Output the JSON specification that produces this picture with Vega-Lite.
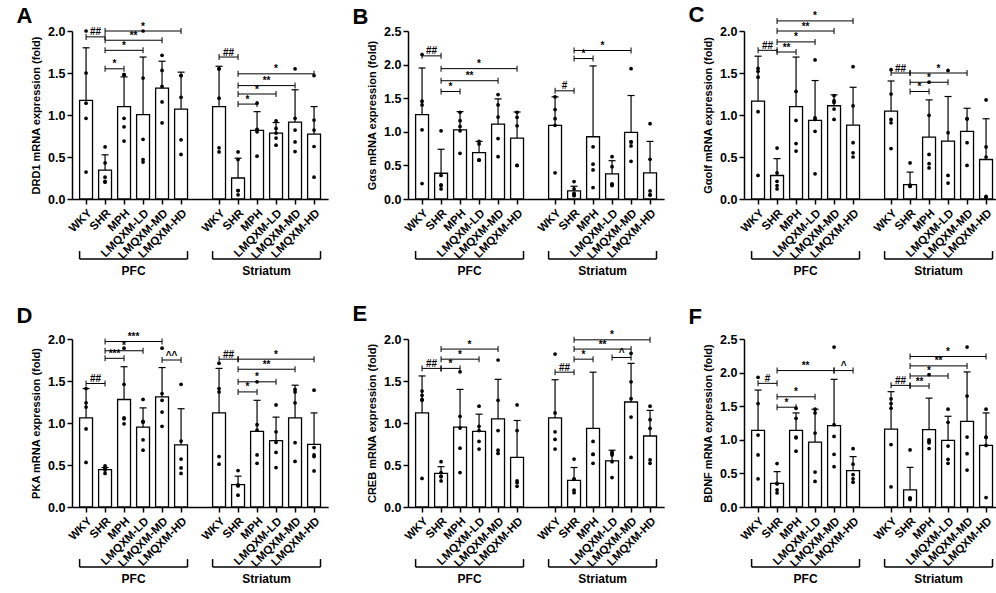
{
  "$schema": "https://vega.github.io/schema/vega-lite/v6.json",
  "padding": {"left": 16, "top": 4, "right": 2, "bottom": 0},
  "params": [
    {"name": "cats", "value": ["PFC WKY", "PFC SHR", "PFC MPH", "PFC LMQXM-LD", "PFC LMQXM-MD", "PFC LMQXM-HD", "gap", "Striatum WKY", "Striatum SHR", "Striatum MPH", "Striatum LMQXM-LD", "Striatum LMQXM-MD", "Striatum LMQXM-HD"]}
  ],
  "datasets": {
    "bars": [
      {"panel": "A", "bar": "PFC WKY", "mean": 1.175, "upper": 1.80},
      {"panel": "A", "bar": "PFC SHR", "mean": 0.343, "upper": 0.526},
      {"panel": "A", "bar": "PFC MPH", "mean": 1.10, "upper": 1.454},
      {"panel": "A", "bar": "PFC LMQXM-LD", "mean": 1.004, "upper": 1.69},
      {"panel": "A", "bar": "PFC LMQXM-MD", "mean": 1.32, "upper": 1.64},
      {"panel": "A", "bar": "PFC LMQXM-HD", "mean": 1.07, "upper": 1.51},
      {"panel": "A", "bar": "Striatum WKY", "mean": 1.10, "upper": 1.58},
      {"panel": "A", "bar": "Striatum SHR", "mean": 0.25, "upper": 0.486},
      {"panel": "A", "bar": "Striatum MPH", "mean": 0.817, "upper": 1.04},
      {"panel": "A", "bar": "Striatum LMQXM-LD", "mean": 0.785, "upper": 0.91},
      {"panel": "A", "bar": "Striatum LMQXM-MD", "mean": 0.916, "upper": 1.30},
      {"panel": "A", "bar": "Striatum LMQXM-HD", "mean": 0.773, "upper": 1.10},
      {"panel": "B", "bar": "PFC WKY", "mean": 1.255, "upper": 1.95},
      {"panel": "B", "bar": "PFC SHR", "mean": 0.383, "upper": 0.74},
      {"panel": "B", "bar": "PFC MPH", "mean": 1.03, "upper": 1.30},
      {"panel": "B", "bar": "PFC LMQXM-LD", "mean": 0.69, "upper": 0.857},
      {"panel": "B", "bar": "PFC LMQXM-MD", "mean": 1.115, "upper": 1.49},
      {"panel": "B", "bar": "PFC LMQXM-HD", "mean": 0.906, "upper": 1.295},
      {"panel": "B", "bar": "Striatum WKY", "mean": 1.096, "upper": 1.52},
      {"panel": "B", "bar": "Striatum SHR", "mean": 0.12, "upper": 0.19},
      {"panel": "B", "bar": "Striatum MPH", "mean": 0.926, "upper": 1.98},
      {"panel": "B", "bar": "Striatum LMQXM-LD", "mean": 0.373, "upper": 0.57},
      {"panel": "B", "bar": "Striatum LMQXM-MD", "mean": 0.99, "upper": 1.54},
      {"panel": "B", "bar": "Striatum LMQXM-HD", "mean": 0.39, "upper": 0.857},
      {"panel": "C", "bar": "PFC WKY", "mean": 1.166, "upper": 1.70},
      {"panel": "C", "bar": "PFC SHR", "mean": 0.28, "upper": 0.48},
      {"panel": "C", "bar": "PFC MPH", "mean": 1.10, "upper": 1.69},
      {"panel": "C", "bar": "PFC LMQXM-LD", "mean": 0.935, "upper": 1.41},
      {"panel": "C", "bar": "PFC LMQXM-MD", "mean": 1.11, "upper": 1.24},
      {"panel": "C", "bar": "PFC LMQXM-HD", "mean": 0.88, "upper": 1.33},
      {"panel": "C", "bar": "Striatum WKY", "mean": 1.045, "upper": 1.405},
      {"panel": "C", "bar": "Striatum SHR", "mean": 0.17, "upper": 0.32},
      {"panel": "C", "bar": "Striatum MPH", "mean": 0.737, "upper": 1.18},
      {"panel": "C", "bar": "Striatum LMQXM-LD", "mean": 0.69, "upper": 1.22},
      {"panel": "C", "bar": "Striatum LMQXM-MD", "mean": 0.806, "upper": 1.08},
      {"panel": "C", "bar": "Striatum LMQXM-HD", "mean": 0.47, "upper": 0.955},
      {"panel": "D", "bar": "PFC WKY", "mean": 1.06, "upper": 1.41},
      {"panel": "D", "bar": "PFC SHR", "mean": 0.445, "upper": 0.47},
      {"panel": "D", "bar": "PFC MPH", "mean": 1.28, "upper": 1.67},
      {"panel": "D", "bar": "PFC LMQXM-LD", "mean": 0.95, "upper": 1.18},
      {"panel": "D", "bar": "PFC LMQXM-MD", "mean": 1.31, "upper": 1.66},
      {"panel": "D", "bar": "PFC LMQXM-HD", "mean": 0.74, "upper": 1.17},
      {"panel": "D", "bar": "Striatum WKY", "mean": 1.12, "upper": 1.65},
      {"panel": "D", "bar": "Striatum SHR", "mean": 0.266, "upper": 0.367},
      {"panel": "D", "bar": "Striatum MPH", "mean": 0.90, "upper": 1.27},
      {"panel": "D", "bar": "Striatum LMQXM-LD", "mean": 0.79, "upper": 1.07},
      {"panel": "D", "bar": "Striatum LMQXM-MD", "mean": 1.06, "upper": 1.45},
      {"panel": "D", "bar": "Striatum LMQXM-HD", "mean": 0.745, "upper": 1.12},
      {"panel": "E", "bar": "PFC WKY", "mean": 1.12, "upper": 1.56},
      {"panel": "E", "bar": "PFC SHR", "mean": 0.40, "upper": 0.48},
      {"panel": "E", "bar": "PFC MPH", "mean": 0.95, "upper": 1.40},
      {"panel": "E", "bar": "PFC LMQXM-LD", "mean": 0.90, "upper": 1.105},
      {"panel": "E", "bar": "PFC LMQXM-MD", "mean": 1.05, "upper": 1.52},
      {"panel": "E", "bar": "PFC LMQXM-HD", "mean": 0.59, "upper": 1.03},
      {"panel": "E", "bar": "Striatum WKY", "mean": 1.06, "upper": 1.515},
      {"panel": "E", "bar": "Striatum SHR", "mean": 0.316, "upper": 0.47},
      {"panel": "E", "bar": "Striatum MPH", "mean": 0.935, "upper": 1.605},
      {"panel": "E", "bar": "Striatum LMQXM-LD", "mean": 0.55, "upper": 0.676},
      {"panel": "E", "bar": "Striatum LMQXM-MD", "mean": 1.25, "upper": 1.71},
      {"panel": "E", "bar": "Striatum LMQXM-HD", "mean": 0.845, "upper": 1.15},
      {"panel": "F", "bar": "PFC WKY", "mean": 1.14, "upper": 1.74},
      {"panel": "F", "bar": "PFC SHR", "mean": 0.353, "upper": 0.525},
      {"panel": "F", "bar": "PFC MPH", "mean": 1.14, "upper": 1.40},
      {"panel": "F", "bar": "PFC LMQXM-LD", "mean": 0.966, "upper": 1.455},
      {"panel": "F", "bar": "PFC LMQXM-MD", "mean": 1.21, "upper": 1.90},
      {"panel": "F", "bar": "PFC LMQXM-HD", "mean": 0.54, "upper": 0.75},
      {"panel": "F", "bar": "Striatum WKY", "mean": 1.16, "upper": 1.716},
      {"panel": "F", "bar": "Striatum SHR", "mean": 0.255, "upper": 0.59},
      {"panel": "F", "bar": "Striatum MPH", "mean": 1.15, "upper": 1.62},
      {"panel": "F", "bar": "Striatum LMQXM-LD", "mean": 0.99, "upper": 1.35},
      {"panel": "F", "bar": "Striatum LMQXM-MD", "mean": 1.275, "upper": 2.01},
      {"panel": "F", "bar": "Striatum LMQXM-HD", "mean": 0.917, "upper": 1.40}
    ],
    "points": [
      {"panel": "A", "bar": "PFC WKY", "value": 2.0}, {"panel": "A", "bar": "PFC WKY", "value": 1.50}, {"panel": "A", "bar": "PFC WKY", "value": 1.14}, {"panel": "A", "bar": "PFC WKY", "value": 0.96}, {"panel": "A", "bar": "PFC WKY", "value": 0.32},
      {"panel": "A", "bar": "PFC SHR", "value": 0.62}, {"panel": "A", "bar": "PFC SHR", "value": 0.43}, {"panel": "A", "bar": "PFC SHR", "value": 0.26}, {"panel": "A", "bar": "PFC SHR", "value": 0.21}, {"panel": "A", "bar": "PFC SHR", "value": 0.20},
      {"panel": "A", "bar": "PFC MPH", "value": 1.48}, {"panel": "A", "bar": "PFC MPH", "value": 1.48}, {"panel": "A", "bar": "PFC MPH", "value": 0.96}, {"panel": "A", "bar": "PFC MPH", "value": 0.86}, {"panel": "A", "bar": "PFC MPH", "value": 0.69},
      {"panel": "A", "bar": "PFC LMQXM-LD", "value": 2.0}, {"panel": "A", "bar": "PFC LMQXM-LD", "value": 1.44}, {"panel": "A", "bar": "PFC LMQXM-LD", "value": 0.71}, {"panel": "A", "bar": "PFC LMQXM-LD", "value": 0.47}, {"panel": "A", "bar": "PFC LMQXM-LD", "value": 0.44},
      {"panel": "A", "bar": "PFC LMQXM-MD", "value": 1.71}, {"panel": "A", "bar": "PFC LMQXM-MD", "value": 1.53}, {"panel": "A", "bar": "PFC LMQXM-MD", "value": 1.34}, {"panel": "A", "bar": "PFC LMQXM-MD", "value": 1.155}, {"panel": "A", "bar": "PFC LMQXM-MD", "value": 0.905},
      {"panel": "A", "bar": "PFC LMQXM-HD", "value": 1.47}, {"panel": "A", "bar": "PFC LMQXM-HD", "value": 1.47}, {"panel": "A", "bar": "PFC LMQXM-HD", "value": 1.21}, {"panel": "A", "bar": "PFC LMQXM-HD", "value": 0.705}, {"panel": "A", "bar": "PFC LMQXM-HD", "value": 0.53},
      {"panel": "A", "bar": "Striatum WKY", "value": 1.55}, {"panel": "A", "bar": "Striatum WKY", "value": 1.55}, {"panel": "A", "bar": "Striatum WKY", "value": 1.20}, {"panel": "A", "bar": "Striatum WKY", "value": 0.61}, {"panel": "A", "bar": "Striatum WKY", "value": 0.56},
      {"panel": "A", "bar": "Striatum SHR", "value": 0.56}, {"panel": "A", "bar": "Striatum SHR", "value": 0.47}, {"panel": "A", "bar": "Striatum SHR", "value": 0.10}, {"panel": "A", "bar": "Striatum SHR", "value": 0.10}, {"panel": "A", "bar": "Striatum SHR", "value": 0.05},
      {"panel": "A", "bar": "Striatum MPH", "value": 1.14}, {"panel": "A", "bar": "Striatum MPH", "value": 0.83}, {"panel": "A", "bar": "Striatum MPH", "value": 0.82}, {"panel": "A", "bar": "Striatum MPH", "value": 0.80}, {"panel": "A", "bar": "Striatum MPH", "value": 0.51},
      {"panel": "A", "bar": "Striatum LMQXM-LD", "value": 0.93}, {"panel": "A", "bar": "Striatum LMQXM-LD", "value": 0.84}, {"panel": "A", "bar": "Striatum LMQXM-LD", "value": 0.785}, {"panel": "A", "bar": "Striatum LMQXM-LD", "value": 0.725}, {"panel": "A", "bar": "Striatum LMQXM-LD", "value": 0.64},
      {"panel": "A", "bar": "Striatum LMQXM-MD", "value": 1.55}, {"panel": "A", "bar": "Striatum LMQXM-MD", "value": 0.96}, {"panel": "A", "bar": "Striatum LMQXM-MD", "value": 0.82}, {"panel": "A", "bar": "Striatum LMQXM-MD", "value": 0.68}, {"panel": "A", "bar": "Striatum LMQXM-MD", "value": 0.565},
      {"panel": "A", "bar": "Striatum LMQXM-HD", "value": 1.47}, {"panel": "A", "bar": "Striatum LMQXM-HD", "value": 0.94}, {"panel": "A", "bar": "Striatum LMQXM-HD", "value": 0.82}, {"panel": "A", "bar": "Striatum LMQXM-HD", "value": 0.625}, {"panel": "A", "bar": "Striatum LMQXM-HD", "value": 0.26},

      {"panel": "B", "bar": "PFC WKY", "value": 2.15}, {"panel": "B", "bar": "PFC WKY", "value": 1.455}, {"panel": "B", "bar": "PFC WKY", "value": 1.40}, {"panel": "B", "bar": "PFC WKY", "value": 1.03}, {"panel": "B", "bar": "PFC WKY", "value": 0.23},
      {"panel": "B", "bar": "PFC SHR", "value": 1.015}, {"panel": "B", "bar": "PFC SHR", "value": 0.35}, {"panel": "B", "bar": "PFC SHR", "value": 0.21}, {"panel": "B", "bar": "PFC SHR", "value": 0.20}, {"panel": "B", "bar": "PFC SHR", "value": 0.15},
      {"panel": "B", "bar": "PFC MPH", "value": 1.29}, {"panel": "B", "bar": "PFC MPH", "value": 1.165}, {"panel": "B", "bar": "PFC MPH", "value": 1.08}, {"panel": "B", "bar": "PFC MPH", "value": 1.015}, {"panel": "B", "bar": "PFC MPH", "value": 0.68},
      {"panel": "B", "bar": "PFC LMQXM-LD", "value": 0.857}, {"panel": "B", "bar": "PFC LMQXM-LD", "value": 0.82}, {"panel": "B", "bar": "PFC LMQXM-LD", "value": 0.58}, {"panel": "B", "bar": "PFC LMQXM-LD", "value": 0.58}, {"panel": "B", "bar": "PFC LMQXM-LD", "value": 0.58},
      {"panel": "B", "bar": "PFC LMQXM-MD", "value": 1.555}, {"panel": "B", "bar": "PFC LMQXM-MD", "value": 1.40}, {"panel": "B", "bar": "PFC LMQXM-MD", "value": 1.22}, {"panel": "B", "bar": "PFC LMQXM-MD", "value": 0.90}, {"panel": "B", "bar": "PFC LMQXM-MD", "value": 0.63},
      {"panel": "B", "bar": "PFC LMQXM-HD", "value": 1.29}, {"panel": "B", "bar": "PFC LMQXM-HD", "value": 1.215}, {"panel": "B", "bar": "PFC LMQXM-HD", "value": 1.09}, {"panel": "B", "bar": "PFC LMQXM-HD", "value": 0.50}, {"panel": "B", "bar": "PFC LMQXM-HD", "value": 0.50},
      {"panel": "B", "bar": "Striatum WKY", "value": 1.52}, {"panel": "B", "bar": "Striatum WKY", "value": 1.33}, {"panel": "B", "bar": "Striatum WKY", "value": 1.195}, {"panel": "B", "bar": "Striatum WKY", "value": 1.096}, {"panel": "B", "bar": "Striatum WKY", "value": 0.39},
      {"panel": "B", "bar": "Striatum SHR", "value": 0.26}, {"panel": "B", "bar": "Striatum SHR", "value": 0.15}, {"panel": "B", "bar": "Striatum SHR", "value": 0.085}, {"panel": "B", "bar": "Striatum SHR", "value": 0.06}, {"panel": "B", "bar": "Striatum SHR", "value": 0.05},
      {"panel": "B", "bar": "Striatum MPH", "value": 0.777}, {"panel": "B", "bar": "Striatum MPH", "value": 0.518}, {"panel": "B", "bar": "Striatum MPH", "value": 0.433}, {"panel": "B", "bar": "Striatum MPH", "value": 0.17},
      {"panel": "B", "bar": "Striatum LMQXM-LD", "value": 0.63}, {"panel": "B", "bar": "Striatum LMQXM-LD", "value": 0.48}, {"panel": "B", "bar": "Striatum LMQXM-LD", "value": 0.22}, {"panel": "B", "bar": "Striatum LMQXM-LD", "value": 0.22}, {"panel": "B", "bar": "Striatum LMQXM-LD", "value": 0.20},
      {"panel": "B", "bar": "Striatum LMQXM-MD", "value": 1.94}, {"panel": "B", "bar": "Striatum LMQXM-MD", "value": 0.85}, {"panel": "B", "bar": "Striatum LMQXM-MD", "value": 0.85}, {"panel": "B", "bar": "Striatum LMQXM-MD", "value": 0.79}, {"panel": "B", "bar": "Striatum LMQXM-MD", "value": 0.56},
      {"panel": "B", "bar": "Striatum LMQXM-HD", "value": 1.12}, {"panel": "B", "bar": "Striatum LMQXM-HD", "value": 0.59}, {"panel": "B", "bar": "Striatum LMQXM-HD", "value": 0.12}, {"panel": "B", "bar": "Striatum LMQXM-HD", "value": 0.06}, {"panel": "B", "bar": "Striatum LMQXM-HD", "value": 0.06},

      {"panel": "C", "bar": "PFC WKY", "value": 1.555}, {"panel": "C", "bar": "PFC WKY", "value": 1.52}, {"panel": "C", "bar": "PFC WKY", "value": 1.45}, {"panel": "C", "bar": "PFC WKY", "value": 1.04}, {"panel": "C", "bar": "PFC WKY", "value": 0.28},
      {"panel": "C", "bar": "PFC SHR", "value": 0.607}, {"panel": "C", "bar": "PFC SHR", "value": 0.31}, {"panel": "C", "bar": "PFC SHR", "value": 0.21}, {"panel": "C", "bar": "PFC SHR", "value": 0.16}, {"panel": "C", "bar": "PFC SHR", "value": 0.12},
      {"panel": "C", "bar": "PFC MPH", "value": 1.28}, {"panel": "C", "bar": "PFC MPH", "value": 0.935}, {"panel": "C", "bar": "PFC MPH", "value": 0.66}, {"panel": "C", "bar": "PFC MPH", "value": 0.57},
      {"panel": "C", "bar": "PFC LMQXM-LD", "value": 1.656}, {"panel": "C", "bar": "PFC LMQXM-LD", "value": 0.967}, {"panel": "C", "bar": "PFC LMQXM-LD", "value": 0.947}, {"panel": "C", "bar": "PFC LMQXM-LD", "value": 0.806}, {"panel": "C", "bar": "PFC LMQXM-LD", "value": 0.30},
      {"panel": "C", "bar": "PFC LMQXM-MD", "value": 1.23}, {"panel": "C", "bar": "PFC LMQXM-MD", "value": 1.17}, {"panel": "C", "bar": "PFC LMQXM-MD", "value": 1.15}, {"panel": "C", "bar": "PFC LMQXM-MD", "value": 1.07}, {"panel": "C", "bar": "PFC LMQXM-MD", "value": 0.947},
      {"panel": "C", "bar": "PFC LMQXM-HD", "value": 1.575}, {"panel": "C", "bar": "PFC LMQXM-HD", "value": 1.11}, {"panel": "C", "bar": "PFC LMQXM-HD", "value": 0.67}, {"panel": "C", "bar": "PFC LMQXM-HD", "value": 0.55}, {"panel": "C", "bar": "PFC LMQXM-HD", "value": 0.50},
      {"panel": "C", "bar": "Striatum WKY", "value": 1.54}, {"panel": "C", "bar": "Striatum WKY", "value": 1.25}, {"panel": "C", "bar": "Striatum WKY", "value": 0.947}, {"panel": "C", "bar": "Striatum WKY", "value": 0.907}, {"panel": "C", "bar": "Striatum WKY", "value": 0.60},
      {"panel": "C", "bar": "Striatum SHR", "value": 0.43}, {"panel": "C", "bar": "Striatum SHR", "value": 0.166}, {"panel": "C", "bar": "Striatum SHR", "value": 0.158}, {"panel": "C", "bar": "Striatum SHR", "value": 0.15},
      {"panel": "C", "bar": "Striatum MPH", "value": 1.39}, {"panel": "C", "bar": "Striatum MPH", "value": 0.996}, {"panel": "C", "bar": "Striatum MPH", "value": 0.53}, {"panel": "C", "bar": "Striatum MPH", "value": 0.42}, {"panel": "C", "bar": "Striatum MPH", "value": 0.37},
      {"panel": "C", "bar": "Striatum LMQXM-LD", "value": 1.53}, {"panel": "C", "bar": "Striatum LMQXM-LD", "value": 0.79}, {"panel": "C", "bar": "Striatum LMQXM-LD", "value": 0.28}, {"panel": "C", "bar": "Striatum LMQXM-LD", "value": 0.19},
      {"panel": "C", "bar": "Striatum LMQXM-MD", "value": 0.955}, {"panel": "C", "bar": "Striatum LMQXM-MD", "value": 0.955}, {"panel": "C", "bar": "Striatum LMQXM-MD", "value": 0.67}, {"panel": "C", "bar": "Striatum LMQXM-MD", "value": 0.40},
      {"panel": "C", "bar": "Striatum LMQXM-HD", "value": 1.18}, {"panel": "C", "bar": "Striatum LMQXM-HD", "value": 0.62}, {"panel": "C", "bar": "Striatum LMQXM-HD", "value": 0.50}, {"panel": "C", "bar": "Striatum LMQXM-HD", "value": 0.03}, {"panel": "C", "bar": "Striatum LMQXM-HD", "value": 0.02},

      {"panel": "D", "bar": "PFC WKY", "value": 1.41}, {"panel": "D", "bar": "PFC WKY", "value": 1.24}, {"panel": "D", "bar": "PFC WKY", "value": 1.19}, {"panel": "D", "bar": "PFC WKY", "value": 0.93}, {"panel": "D", "bar": "PFC WKY", "value": 0.53},
      {"panel": "D", "bar": "PFC SHR", "value": 0.49}, {"panel": "D", "bar": "PFC SHR", "value": 0.47}, {"panel": "D", "bar": "PFC SHR", "value": 0.46}, {"panel": "D", "bar": "PFC SHR", "value": 0.44}, {"panel": "D", "bar": "PFC SHR", "value": 0.40},
      {"panel": "D", "bar": "PFC MPH", "value": 1.89}, {"panel": "D", "bar": "PFC MPH", "value": 1.46}, {"panel": "D", "bar": "PFC MPH", "value": 1.06}, {"panel": "D", "bar": "PFC MPH", "value": 1.05}, {"panel": "D", "bar": "PFC MPH", "value": 0.99},
      {"panel": "D", "bar": "PFC LMQXM-LD", "value": 1.28}, {"panel": "D", "bar": "PFC LMQXM-LD", "value": 1.02}, {"panel": "D", "bar": "PFC LMQXM-LD", "value": 1.01}, {"panel": "D", "bar": "PFC LMQXM-LD", "value": 0.80}, {"panel": "D", "bar": "PFC LMQXM-LD", "value": 0.676},
      {"panel": "D", "bar": "PFC LMQXM-MD", "value": 1.89}, {"panel": "D", "bar": "PFC LMQXM-MD", "value": 1.35}, {"panel": "D", "bar": "PFC LMQXM-MD", "value": 1.27}, {"panel": "D", "bar": "PFC LMQXM-MD", "value": 1.13}, {"panel": "D", "bar": "PFC LMQXM-MD", "value": 0.96},
      {"panel": "D", "bar": "PFC LMQXM-HD", "value": 1.46}, {"panel": "D", "bar": "PFC LMQXM-HD", "value": 0.785}, {"panel": "D", "bar": "PFC LMQXM-HD", "value": 0.57}, {"panel": "D", "bar": "PFC LMQXM-HD", "value": 0.465}, {"panel": "D", "bar": "PFC LMQXM-HD", "value": 0.40},
      {"panel": "D", "bar": "Striatum WKY", "value": 1.71}, {"panel": "D", "bar": "Striatum WKY", "value": 1.41}, {"panel": "D", "bar": "Striatum WKY", "value": 1.37}, {"panel": "D", "bar": "Striatum WKY", "value": 0.60}, {"panel": "D", "bar": "Striatum WKY", "value": 0.51},
      {"panel": "D", "bar": "Striatum SHR", "value": 0.434}, {"panel": "D", "bar": "Striatum SHR", "value": 0.26}, {"panel": "D", "bar": "Striatum SHR", "value": 0.26}, {"panel": "D", "bar": "Striatum SHR", "value": 0.25}, {"panel": "D", "bar": "Striatum SHR", "value": 0.14},
      {"panel": "D", "bar": "Striatum MPH", "value": 1.49}, {"panel": "D", "bar": "Striatum MPH", "value": 0.98}, {"panel": "D", "bar": "Striatum MPH", "value": 0.914}, {"panel": "D", "bar": "Striatum MPH", "value": 0.62}, {"panel": "D", "bar": "Striatum MPH", "value": 0.52},
      {"panel": "D", "bar": "Striatum LMQXM-LD", "value": 1.215}, {"panel": "D", "bar": "Striatum LMQXM-LD", "value": 0.895}, {"panel": "D", "bar": "Striatum LMQXM-LD", "value": 0.77}, {"panel": "D", "bar": "Striatum LMQXM-LD", "value": 0.65}, {"panel": "D", "bar": "Striatum LMQXM-LD", "value": 0.47},
      {"panel": "D", "bar": "Striatum LMQXM-MD", "value": 1.40}, {"panel": "D", "bar": "Striatum LMQXM-MD", "value": 1.37}, {"panel": "D", "bar": "Striatum LMQXM-MD", "value": 1.24}, {"panel": "D", "bar": "Striatum LMQXM-MD", "value": 0.766}, {"panel": "D", "bar": "Striatum LMQXM-MD", "value": 0.543},
      {"panel": "D", "bar": "Striatum LMQXM-HD", "value": 1.39}, {"panel": "D", "bar": "Striatum LMQXM-HD", "value": 0.707}, {"panel": "D", "bar": "Striatum LMQXM-HD", "value": 0.62}, {"panel": "D", "bar": "Striatum LMQXM-HD", "value": 0.60}, {"panel": "D", "bar": "Striatum LMQXM-HD", "value": 0.43},

      {"panel": "E", "bar": "PFC WKY", "value": 1.38}, {"panel": "E", "bar": "PFC WKY", "value": 1.33}, {"panel": "E", "bar": "PFC WKY", "value": 1.28}, {"panel": "E", "bar": "PFC WKY", "value": 1.27}, {"panel": "E", "bar": "PFC WKY", "value": 0.34},
      {"panel": "E", "bar": "PFC SHR", "value": 0.54}, {"panel": "E", "bar": "PFC SHR", "value": 0.41}, {"panel": "E", "bar": "PFC SHR", "value": 0.367}, {"panel": "E", "bar": "PFC SHR", "value": 0.36}, {"panel": "E", "bar": "PFC SHR", "value": 0.31},
      {"panel": "E", "bar": "PFC MPH", "value": 1.61}, {"panel": "E", "bar": "PFC MPH", "value": 1.08}, {"panel": "E", "bar": "PFC MPH", "value": 0.94}, {"panel": "E", "bar": "PFC MPH", "value": 0.70}, {"panel": "E", "bar": "PFC MPH", "value": 0.41},
      {"panel": "E", "bar": "PFC LMQXM-LD", "value": 1.20}, {"panel": "E", "bar": "PFC LMQXM-LD", "value": 0.96}, {"panel": "E", "bar": "PFC LMQXM-LD", "value": 0.91}, {"panel": "E", "bar": "PFC LMQXM-LD", "value": 0.78}, {"panel": "E", "bar": "PFC LMQXM-LD", "value": 0.69},
      {"panel": "E", "bar": "PFC LMQXM-MD", "value": 1.75}, {"panel": "E", "bar": "PFC LMQXM-MD", "value": 1.27}, {"panel": "E", "bar": "PFC LMQXM-MD", "value": 0.91}, {"panel": "E", "bar": "PFC LMQXM-MD", "value": 0.676}, {"panel": "E", "bar": "PFC LMQXM-MD", "value": 0.637},
      {"panel": "E", "bar": "PFC LMQXM-HD", "value": 1.215}, {"panel": "E", "bar": "PFC LMQXM-HD", "value": 0.91}, {"panel": "E", "bar": "PFC LMQXM-HD", "value": 0.31}, {"panel": "E", "bar": "PFC LMQXM-HD", "value": 0.29}, {"panel": "E", "bar": "PFC LMQXM-HD", "value": 0.246},
      {"panel": "E", "bar": "Striatum WKY", "value": 1.82}, {"panel": "E", "bar": "Striatum WKY", "value": 1.12}, {"panel": "E", "bar": "Striatum WKY", "value": 0.895}, {"panel": "E", "bar": "Striatum WKY", "value": 0.805}, {"panel": "E", "bar": "Striatum WKY", "value": 0.69},
      {"panel": "E", "bar": "Striatum SHR", "value": 0.57}, {"panel": "E", "bar": "Striatum SHR", "value": 0.336}, {"panel": "E", "bar": "Striatum SHR", "value": 0.33}, {"panel": "E", "bar": "Striatum SHR", "value": 0.20}, {"panel": "E", "bar": "Striatum SHR", "value": 0.17},
      {"panel": "E", "bar": "Striatum MPH", "value": 0.78}, {"panel": "E", "bar": "Striatum MPH", "value": 0.63}, {"panel": "E", "bar": "Striatum MPH", "value": 0.625}, {"panel": "E", "bar": "Striatum MPH", "value": 0.52},
      {"panel": "E", "bar": "Striatum LMQXM-LD", "value": 0.656}, {"panel": "E", "bar": "Striatum LMQXM-LD", "value": 0.64}, {"panel": "E", "bar": "Striatum LMQXM-LD", "value": 0.62}, {"panel": "E", "bar": "Striatum LMQXM-LD", "value": 0.54}, {"panel": "E", "bar": "Striatum LMQXM-LD", "value": 0.35},
      {"panel": "E", "bar": "Striatum LMQXM-MD", "value": 1.83}, {"panel": "E", "bar": "Striatum LMQXM-MD", "value": 1.49}, {"panel": "E", "bar": "Striatum LMQXM-MD", "value": 1.29}, {"panel": "E", "bar": "Striatum LMQXM-MD", "value": 1.07}, {"panel": "E", "bar": "Striatum LMQXM-MD", "value": 0.59},
      {"panel": "E", "bar": "Striatum LMQXM-HD", "value": 1.20}, {"panel": "E", "bar": "Striatum LMQXM-HD", "value": 1.04}, {"panel": "E", "bar": "Striatum LMQXM-HD", "value": 0.935}, {"panel": "E", "bar": "Striatum LMQXM-HD", "value": 0.56}, {"panel": "E", "bar": "Striatum LMQXM-HD", "value": 0.52},

      {"panel": "F", "bar": "PFC WKY", "value": 1.93}, {"panel": "F", "bar": "PFC WKY", "value": 1.54}, {"panel": "F", "bar": "PFC WKY", "value": 1.07}, {"panel": "F", "bar": "PFC WKY", "value": 0.775}, {"panel": "F", "bar": "PFC WKY", "value": 0.42},
      {"panel": "F", "bar": "PFC SHR", "value": 0.647}, {"panel": "F", "bar": "PFC SHR", "value": 0.35}, {"panel": "F", "bar": "PFC SHR", "value": 0.345}, {"panel": "F", "bar": "PFC SHR", "value": 0.255}, {"panel": "F", "bar": "PFC SHR", "value": 0.21},
      {"panel": "F", "bar": "PFC MPH", "value": 1.47}, {"panel": "F", "bar": "PFC MPH", "value": 1.32}, {"panel": "F", "bar": "PFC MPH", "value": 1.04}, {"panel": "F", "bar": "PFC MPH", "value": 1.03}, {"panel": "F", "bar": "PFC MPH", "value": 0.83},
      {"panel": "F", "bar": "PFC LMQXM-LD", "value": 1.455}, {"panel": "F", "bar": "PFC LMQXM-LD", "value": 1.40}, {"panel": "F", "bar": "PFC LMQXM-LD", "value": 1.10}, {"panel": "F", "bar": "PFC LMQXM-LD", "value": 0.52}, {"panel": "F", "bar": "PFC LMQXM-LD", "value": 0.38},
      {"panel": "F", "bar": "PFC LMQXM-MD", "value": 2.38}, {"panel": "F", "bar": "PFC LMQXM-MD", "value": 1.225}, {"panel": "F", "bar": "PFC LMQXM-MD", "value": 1.05}, {"panel": "F", "bar": "PFC LMQXM-MD", "value": 0.784}, {"panel": "F", "bar": "PFC LMQXM-MD", "value": 0.60},
      {"panel": "F", "bar": "PFC LMQXM-HD", "value": 0.868}, {"panel": "F", "bar": "PFC LMQXM-HD", "value": 0.637}, {"panel": "F", "bar": "PFC LMQXM-HD", "value": 0.48}, {"panel": "F", "bar": "PFC LMQXM-HD", "value": 0.42}, {"panel": "F", "bar": "PFC LMQXM-HD", "value": 0.37},
      {"panel": "F", "bar": "Striatum WKY", "value": 1.61}, {"panel": "F", "bar": "Striatum WKY", "value": 1.54}, {"panel": "F", "bar": "Striatum WKY", "value": 1.47}, {"panel": "F", "bar": "Striatum WKY", "value": 0.93}, {"panel": "F", "bar": "Striatum WKY", "value": 0.30},
      {"panel": "F", "bar": "Striatum SHR", "value": 0.85}, {"panel": "F", "bar": "Striatum SHR", "value": 0.135}, {"panel": "F", "bar": "Striatum SHR", "value": 0.13}, {"panel": "F", "bar": "Striatum SHR", "value": 0.12}, {"panel": "F", "bar": "Striatum SHR", "value": 0.11},
      {"panel": "F", "bar": "Striatum MPH", "value": 1.97}, {"panel": "F", "bar": "Striatum MPH", "value": 1.00}, {"panel": "F", "bar": "Striatum MPH", "value": 0.98}, {"panel": "F", "bar": "Striatum MPH", "value": 0.955}, {"panel": "F", "bar": "Striatum MPH", "value": 0.87},
      {"panel": "F", "bar": "Striatum LMQXM-LD", "value": 1.455}, {"panel": "F", "bar": "Striatum LMQXM-LD", "value": 1.26}, {"panel": "F", "bar": "Striatum LMQXM-LD", "value": 0.907}, {"panel": "F", "bar": "Striatum LMQXM-LD", "value": 0.71}, {"panel": "F", "bar": "Striatum LMQXM-LD", "value": 0.65},
      {"panel": "F", "bar": "Striatum LMQXM-MD", "value": 2.38}, {"panel": "F", "bar": "Striatum LMQXM-MD", "value": 1.65}, {"panel": "F", "bar": "Striatum LMQXM-MD", "value": 1.04}, {"panel": "F", "bar": "Striatum LMQXM-MD", "value": 0.794}, {"panel": "F", "bar": "Striatum LMQXM-MD", "value": 0.55},
      {"panel": "F", "bar": "Striatum LMQXM-HD", "value": 1.455}, {"panel": "F", "bar": "Striatum LMQXM-HD", "value": 1.04}, {"panel": "F", "bar": "Striatum LMQXM-HD", "value": 1.035}, {"panel": "F", "bar": "Striatum LMQXM-HD", "value": 0.917}, {"panel": "F", "bar": "Striatum LMQXM-HD", "value": 0.14}
    ],
    "sig": [
      {"panel": "A", "from": "PFC WKY", "to": "PFC SHR", "y": 1.93, "label": "##"},
      {"panel": "A", "from": "PFC SHR", "to": "PFC LMQXM-HD", "y": 2.0, "label": "*"},
      {"panel": "A", "from": "PFC SHR", "to": "PFC LMQXM-MD", "y": 1.89, "label": "**"},
      {"panel": "A", "from": "PFC SHR", "to": "PFC LMQXM-LD", "y": 1.77, "label": "*"},
      {"panel": "A", "from": "PFC SHR", "to": "PFC MPH", "y": 1.55, "label": "*"},
      {"panel": "A", "from": "Striatum WKY", "to": "Striatum SHR", "y": 1.69, "label": "##"},
      {"panel": "A", "from": "Striatum SHR", "to": "Striatum LMQXM-HD", "y": 1.49, "label": "*"},
      {"panel": "A", "from": "Striatum SHR", "to": "Striatum LMQXM-MD", "y": 1.35, "label": "**"},
      {"panel": "A", "from": "Striatum SHR", "to": "Striatum LMQXM-LD", "y": 1.25, "label": "*"},
      {"panel": "A", "from": "Striatum SHR", "to": "Striatum MPH", "y": 1.13, "label": "*"},
      {"panel": "B", "from": "PFC WKY", "to": "PFC SHR", "y": 2.13, "label": "##"},
      {"panel": "B", "from": "PFC SHR", "to": "PFC LMQXM-HD", "y": 1.94, "label": "*"},
      {"panel": "B", "from": "PFC SHR", "to": "PFC LMQXM-MD", "y": 1.76, "label": "**"},
      {"panel": "B", "from": "PFC SHR", "to": "PFC MPH", "y": 1.60, "label": "*"},
      {"panel": "B", "from": "Striatum WKY", "to": "Striatum SHR", "y": 1.61, "label": "#"},
      {"panel": "B", "from": "Striatum SHR", "to": "Striatum MPH", "y": 2.09, "label": "*"},
      {"panel": "B", "from": "Striatum SHR", "to": "Striatum LMQXM-MD", "y": 2.21, "label": "*"},
      {"panel": "C", "from": "PFC WKY", "to": "PFC SHR", "y": 1.77, "label": "##"},
      {"panel": "C", "from": "PFC SHR", "to": "PFC MPH", "y": 1.75, "label": "**"},
      {"panel": "C", "from": "PFC SHR", "to": "PFC LMQXM-LD", "y": 1.87, "label": "*"},
      {"panel": "C", "from": "PFC SHR", "to": "PFC LMQXM-MD", "y": 2.0, "label": "**"},
      {"panel": "C", "from": "PFC SHR", "to": "PFC LMQXM-HD", "y": 2.12, "label": "*"},
      {"panel": "C", "from": "Striatum WKY", "to": "Striatum SHR", "y": 1.50, "label": "##"},
      {"panel": "C", "from": "Striatum SHR", "to": "Striatum MPH", "y": 1.28, "label": "*"},
      {"panel": "C", "from": "Striatum SHR", "to": "Striatum LMQXM-LD", "y": 1.39, "label": "*"},
      {"panel": "C", "from": "Striatum SHR", "to": "Striatum LMQXM-MD", "y": 1.50, "label": "*"},
      {"panel": "D", "from": "PFC WKY", "to": "PFC SHR", "y": 1.47, "label": "##"},
      {"panel": "D", "from": "PFC SHR", "to": "PFC MPH", "y": 1.77, "label": "***"},
      {"panel": "D", "from": "PFC SHR", "to": "PFC LMQXM-LD", "y": 1.86, "label": "*"},
      {"panel": "D", "from": "PFC SHR", "to": "PFC LMQXM-MD", "y": 1.97, "label": "***"},
      {"panel": "D", "from": "PFC LMQXM-MD", "to": "PFC LMQXM-HD", "y": 1.75, "label": "^^"},
      {"panel": "D", "from": "Striatum WKY", "to": "Striatum SHR", "y": 1.76, "label": "##"},
      {"panel": "D", "from": "Striatum SHR", "to": "Striatum LMQXM-HD", "y": 1.76, "label": "*"},
      {"panel": "D", "from": "Striatum SHR", "to": "Striatum LMQXM-MD", "y": 1.64, "label": "**"},
      {"panel": "D", "from": "Striatum SHR", "to": "Striatum LMQXM-LD", "y": 1.49, "label": "*"},
      {"panel": "D", "from": "Striatum SHR", "to": "Striatum MPH", "y": 1.37, "label": "*"},
      {"panel": "E", "from": "PFC WKY", "to": "PFC SHR", "y": 1.65, "label": "##"},
      {"panel": "E", "from": "PFC SHR", "to": "PFC MPH", "y": 1.65, "label": "*"},
      {"panel": "E", "from": "PFC SHR", "to": "PFC LMQXM-LD", "y": 1.76, "label": "*"},
      {"panel": "E", "from": "PFC SHR", "to": "PFC LMQXM-MD", "y": 1.88, "label": "*"},
      {"panel": "E", "from": "Striatum WKY", "to": "Striatum SHR", "y": 1.605, "label": "##"},
      {"panel": "E", "from": "Striatum SHR", "to": "Striatum MPH", "y": 1.76, "label": "*"},
      {"panel": "E", "from": "Striatum SHR", "to": "Striatum LMQXM-MD", "y": 1.88, "label": "**"},
      {"panel": "E", "from": "Striatum SHR", "to": "Striatum LMQXM-HD", "y": 1.99, "label": "*"},
      {"panel": "E", "from": "Striatum LMQXM-LD", "to": "Striatum LMQXM-MD", "y": 1.78, "label": "^"},
      {"panel": "F", "from": "PFC WKY", "to": "PFC SHR", "y": 1.84, "label": "#"},
      {"panel": "F", "from": "PFC SHR", "to": "PFC MPH", "y": 1.485, "label": "*"},
      {"panel": "F", "from": "PFC SHR", "to": "PFC LMQXM-LD", "y": 1.64, "label": "*"},
      {"panel": "F", "from": "PFC SHR", "to": "PFC LMQXM-MD", "y": 2.03, "label": "**"},
      {"panel": "F", "from": "PFC LMQXM-MD", "to": "PFC LMQXM-HD", "y": 2.03, "label": "^"},
      {"panel": "F", "from": "Striatum WKY", "to": "Striatum SHR", "y": 1.81, "label": "##"},
      {"panel": "F", "from": "Striatum SHR", "to": "Striatum MPH", "y": 1.80, "label": "**"},
      {"panel": "F", "from": "Striatum SHR", "to": "Striatum LMQXM-LD", "y": 1.95, "label": "*"},
      {"panel": "F", "from": "Striatum SHR", "to": "Striatum LMQXM-MD", "y": 2.10, "label": "**"},
      {"panel": "F", "from": "Striatum SHR", "to": "Striatum LMQXM-HD", "y": 2.24, "label": "*"}
    ],
    "groups": [
      {"region": "PFC", "from": "PFC WKY", "to": "PFC LMQXM-HD"},
      {"region": "Striatum", "from": "Striatum WKY", "to": "Striatum LMQXM-HD"}
    ]
  },
  "columns": 3,
  "spacing": {"row": 26, "column": 23},
  "concat": [
    {
      "title": {"text": "A", "offset": -6},
      "width": {"step": 19},
      "height": 168,
      "layer": [
        {"data": {"name": "bars"}, "transform": [{"filter": "datum.panel == 'A'"}],
          "mark": {"type": "bar", "fill": "white", "stroke": "black", "strokeWidth": 1.3},
          "encoding": {
            "x": {"field": "bar", "type": "nominal", "title": null, "scale": {"domain": {"expr": "cats"}, "paddingInner": 0.32, "paddingOuter": 0.4}, "axis": {"labelExpr": "datum.value == 'gap' ? '' : split(datum.value, ' ')[1]", "tickColor": {"condition": {"test": "datum.value == 'gap'", "value": "transparent"}, "value": "black"}}},
            "y": {"field": "mean", "type": "quantitative", "scale": {"domain": [0, 2], "nice": false}, "axis": {"values": [0, 0.5, 1, 1.5, 2], "tickCount": 5, "format": ".1f", "labelOverlap": false, "title": "DRD1 mRNA expression (fold)"}}
          }},
        {"data": {"name": "bars"}, "transform": [{"filter": "datum.panel == 'A'"}], "mark": {"type": "rule", "color": "black", "strokeWidth": 1.2},
          "encoding": {"x": {"field": "bar", "type": "nominal"}, "y": {"field": "mean", "type": "quantitative"}, "y2": {"field": "upper"}}},
        {"data": {"name": "bars"}, "transform": [{"filter": "datum.panel == 'A'"}], "mark": {"type": "tick", "orient": "horizontal", "size": 7, "thickness": 1.2, "color": "black", "opacity": 1},
          "encoding": {"x": {"field": "bar", "type": "nominal"}, "y": {"field": "upper", "type": "quantitative"}}},
        {"data": {"name": "points"}, "transform": [{"filter": "datum.panel == 'A'"}], "mark": {"type": "circle", "size": 14, "color": "black", "opacity": 1},
          "encoding": {"x": {"field": "bar", "type": "nominal"}, "y": {"field": "value", "type": "quantitative"}}},
        {"data": {"name": "sig"}, "transform": [{"filter": "datum.panel == 'A'"}], "mark": {"type": "rule", "color": "black", "strokeWidth": 1},
          "encoding": {"x": {"field": "from", "type": "nominal"}, "x2": {"field": "to"}, "y": {"field": "y", "type": "quantitative"}}},
        {"data": {"name": "sig"}, "transform": [{"filter": "datum.panel == 'A'"}, {"fold": ["from", "to"], "as": ["end", "cat"]}], "mark": {"type": "tick", "orient": "vertical", "size": 6, "thickness": 1, "color": "black", "opacity": 1},
          "encoding": {"x": {"field": "cat", "type": "nominal"}, "y": {"field": "y", "type": "quantitative"}}},
        {"data": {"name": "sig"}, "transform": [{"filter": "datum.panel == 'A'"}], "mark": {"type": "text", "color": "black", "fontSize": 10, "fontWeight": "bold", "baseline": "alphabetic", "dy": -1.5, "dx": {"expr": "(indexof(cats, datum.to) - indexof(cats, datum.from)) * 9.5"}},
          "encoding": {"x": {"field": "from", "type": "nominal"}, "y": {"field": "y", "type": "quantitative"}, "text": {"field": "label"}}},
        {"data": {"name": "groups"}, "mark": {"type": "rule", "color": "black", "strokeWidth": 1.5},
          "encoding": {"x": {"field": "from", "type": "nominal", "bandPosition": 0}, "x2": {"field": "to", "bandPosition": 1}, "y": {"datum": -0.714}}},
        {"data": {"name": "groups"}, "mark": {"type": "rule", "color": "black", "strokeWidth": 1.5},
          "encoding": {"x": {"field": "from", "type": "nominal", "bandPosition": 0}, "y": {"datum": -0.714}, "y2": {"datum": -0.62}}},
        {"data": {"name": "groups"}, "mark": {"type": "rule", "color": "black", "strokeWidth": 1.5},
          "encoding": {"x": {"field": "to", "type": "nominal", "bandPosition": 1}, "y": {"datum": -0.714}, "y2": {"datum": -0.62}}},
        {"data": {"name": "groups"}, "mark": {"type": "text", "color": "black", "fontSize": 12, "fontWeight": "bold", "baseline": "middle", "dx": {"expr": "(indexof(cats, datum.to) - indexof(cats, datum.from)) * 9.5"}},
          "encoding": {"x": {"field": "from", "type": "nominal"}, "y": {"datum": -0.857}, "text": {"field": "region"}}}
      ]
    },
    {
      "title": {"text": "B", "offset": -4},
      "width": {"step": 19},
      "height": 168,
      "layer": [
        {"data": {"name": "bars"}, "transform": [{"filter": "datum.panel == 'B'"}],
          "mark": {"type": "bar", "fill": "white", "stroke": "black", "strokeWidth": 1.3},
          "encoding": {
            "x": {"field": "bar", "type": "nominal", "title": null, "scale": {"domain": {"expr": "cats"}, "paddingInner": 0.32, "paddingOuter": 0.4}, "axis": {"labelExpr": "datum.value == 'gap' ? '' : split(datum.value, ' ')[1]", "tickColor": {"condition": {"test": "datum.value == 'gap'", "value": "transparent"}, "value": "black"}}},
            "y": {"field": "mean", "type": "quantitative", "scale": {"domain": [0, 2.5], "nice": false}, "axis": {"values": [0, 0.5, 1, 1.5, 2, 2.5], "tickCount": 6, "format": ".1f", "labelOverlap": false, "title": "Gαs mRNA expression (fold)"}}
          }},
        {"data": {"name": "bars"}, "transform": [{"filter": "datum.panel == 'B'"}], "mark": {"type": "rule", "color": "black", "strokeWidth": 1.2},
          "encoding": {"x": {"field": "bar", "type": "nominal"}, "y": {"field": "mean", "type": "quantitative"}, "y2": {"field": "upper"}}},
        {"data": {"name": "bars"}, "transform": [{"filter": "datum.panel == 'B'"}], "mark": {"type": "tick", "orient": "horizontal", "size": 7, "thickness": 1.2, "color": "black", "opacity": 1},
          "encoding": {"x": {"field": "bar", "type": "nominal"}, "y": {"field": "upper", "type": "quantitative"}}},
        {"data": {"name": "points"}, "transform": [{"filter": "datum.panel == 'B'"}], "mark": {"type": "circle", "size": 14, "color": "black", "opacity": 1},
          "encoding": {"x": {"field": "bar", "type": "nominal"}, "y": {"field": "value", "type": "quantitative"}}},
        {"data": {"name": "sig"}, "transform": [{"filter": "datum.panel == 'B'"}], "mark": {"type": "rule", "color": "black", "strokeWidth": 1},
          "encoding": {"x": {"field": "from", "type": "nominal"}, "x2": {"field": "to"}, "y": {"field": "y", "type": "quantitative"}}},
        {"data": {"name": "sig"}, "transform": [{"filter": "datum.panel == 'B'"}, {"fold": ["from", "to"], "as": ["end", "cat"]}], "mark": {"type": "tick", "orient": "vertical", "size": 6, "thickness": 1, "color": "black", "opacity": 1},
          "encoding": {"x": {"field": "cat", "type": "nominal"}, "y": {"field": "y", "type": "quantitative"}}},
        {"data": {"name": "sig"}, "transform": [{"filter": "datum.panel == 'B'"}], "mark": {"type": "text", "color": "black", "fontSize": 10, "fontWeight": "bold", "baseline": "alphabetic", "dy": -1.5, "dx": {"expr": "(indexof(cats, datum.to) - indexof(cats, datum.from)) * 9.5"}},
          "encoding": {"x": {"field": "from", "type": "nominal"}, "y": {"field": "y", "type": "quantitative"}, "text": {"field": "label"}}},
        {"data": {"name": "groups"}, "mark": {"type": "rule", "color": "black", "strokeWidth": 1.5},
          "encoding": {"x": {"field": "from", "type": "nominal", "bandPosition": 0}, "x2": {"field": "to", "bandPosition": 1}, "y": {"datum": -0.893}}},
        {"data": {"name": "groups"}, "mark": {"type": "rule", "color": "black", "strokeWidth": 1.5},
          "encoding": {"x": {"field": "from", "type": "nominal", "bandPosition": 0}, "y": {"datum": -0.893}, "y2": {"datum": -0.774}}},
        {"data": {"name": "groups"}, "mark": {"type": "rule", "color": "black", "strokeWidth": 1.5},
          "encoding": {"x": {"field": "to", "type": "nominal", "bandPosition": 1}, "y": {"datum": -0.893}, "y2": {"datum": -0.774}}},
        {"data": {"name": "groups"}, "mark": {"type": "text", "color": "black", "fontSize": 12, "fontWeight": "bold", "baseline": "middle", "dx": {"expr": "(indexof(cats, datum.to) - indexof(cats, datum.from)) * 9.5"}},
          "encoding": {"x": {"field": "from", "type": "nominal"}, "y": {"datum": -1.07}, "text": {"field": "region"}}}
      ]
    },
    {
      "title": {"text": "C", "offset": -16},
      "width": {"step": 19},
      "height": 168,
      "layer": [
        {"data": {"name": "bars"}, "transform": [{"filter": "datum.panel == 'C'"}],
          "mark": {"type": "bar", "fill": "white", "stroke": "black", "strokeWidth": 1.3},
          "encoding": {
            "x": {"field": "bar", "type": "nominal", "title": null, "scale": {"domain": {"expr": "cats"}, "paddingInner": 0.32, "paddingOuter": 0.4}, "axis": {"labelExpr": "datum.value == 'gap' ? '' : split(datum.value, ' ')[1]", "tickColor": {"condition": {"test": "datum.value == 'gap'", "value": "transparent"}, "value": "black"}}},
            "y": {"field": "mean", "type": "quantitative", "scale": {"domain": [0, 2], "nice": false}, "axis": {"values": [0, 0.5, 1, 1.5, 2], "tickCount": 5, "format": ".1f", "labelOverlap": false, "title": "Gαolf mRNA expression (fold)"}}
          }},
        {"data": {"name": "bars"}, "transform": [{"filter": "datum.panel == 'C'"}], "mark": {"type": "rule", "color": "black", "strokeWidth": 1.2},
          "encoding": {"x": {"field": "bar", "type": "nominal"}, "y": {"field": "mean", "type": "quantitative"}, "y2": {"field": "upper"}}},
        {"data": {"name": "bars"}, "transform": [{"filter": "datum.panel == 'C'"}], "mark": {"type": "tick", "orient": "horizontal", "size": 7, "thickness": 1.2, "color": "black", "opacity": 1},
          "encoding": {"x": {"field": "bar", "type": "nominal"}, "y": {"field": "upper", "type": "quantitative"}}},
        {"data": {"name": "points"}, "transform": [{"filter": "datum.panel == 'C'"}], "mark": {"type": "circle", "size": 14, "color": "black", "opacity": 1},
          "encoding": {"x": {"field": "bar", "type": "nominal"}, "y": {"field": "value", "type": "quantitative"}}},
        {"data": {"name": "sig"}, "transform": [{"filter": "datum.panel == 'C'"}], "mark": {"type": "rule", "color": "black", "strokeWidth": 1},
          "encoding": {"x": {"field": "from", "type": "nominal"}, "x2": {"field": "to"}, "y": {"field": "y", "type": "quantitative"}}},
        {"data": {"name": "sig"}, "transform": [{"filter": "datum.panel == 'C'"}, {"fold": ["from", "to"], "as": ["end", "cat"]}], "mark": {"type": "tick", "orient": "vertical", "size": 6, "thickness": 1, "color": "black", "opacity": 1},
          "encoding": {"x": {"field": "cat", "type": "nominal"}, "y": {"field": "y", "type": "quantitative"}}},
        {"data": {"name": "sig"}, "transform": [{"filter": "datum.panel == 'C'"}], "mark": {"type": "text", "color": "black", "fontSize": 10, "fontWeight": "bold", "baseline": "alphabetic", "dy": -1.5, "dx": {"expr": "(indexof(cats, datum.to) - indexof(cats, datum.from)) * 9.5"}},
          "encoding": {"x": {"field": "from", "type": "nominal"}, "y": {"field": "y", "type": "quantitative"}, "text": {"field": "label"}}},
        {"data": {"name": "groups"}, "mark": {"type": "rule", "color": "black", "strokeWidth": 1.5},
          "encoding": {"x": {"field": "from", "type": "nominal", "bandPosition": 0}, "x2": {"field": "to", "bandPosition": 1}, "y": {"datum": -0.714}}},
        {"data": {"name": "groups"}, "mark": {"type": "rule", "color": "black", "strokeWidth": 1.5},
          "encoding": {"x": {"field": "from", "type": "nominal", "bandPosition": 0}, "y": {"datum": -0.714}, "y2": {"datum": -0.62}}},
        {"data": {"name": "groups"}, "mark": {"type": "rule", "color": "black", "strokeWidth": 1.5},
          "encoding": {"x": {"field": "to", "type": "nominal", "bandPosition": 1}, "y": {"datum": -0.714}, "y2": {"datum": -0.62}}},
        {"data": {"name": "groups"}, "mark": {"type": "text", "color": "black", "fontSize": 12, "fontWeight": "bold", "baseline": "middle", "dx": {"expr": "(indexof(cats, datum.to) - indexof(cats, datum.from)) * 9.5"}},
          "encoding": {"x": {"field": "from", "type": "nominal"}, "y": {"datum": -0.857}, "text": {"field": "region"}}}
      ]
    },
    {
      "title": {"text": "D", "offset": 4},
      "width": {"step": 19},
      "height": 168,
      "layer": [
        {"data": {"name": "bars"}, "transform": [{"filter": "datum.panel == 'D'"}],
          "mark": {"type": "bar", "fill": "white", "stroke": "black", "strokeWidth": 1.3},
          "encoding": {
            "x": {"field": "bar", "type": "nominal", "title": null, "scale": {"domain": {"expr": "cats"}, "paddingInner": 0.32, "paddingOuter": 0.4}, "axis": {"labelExpr": "datum.value == 'gap' ? '' : split(datum.value, ' ')[1]", "tickColor": {"condition": {"test": "datum.value == 'gap'", "value": "transparent"}, "value": "black"}}},
            "y": {"field": "mean", "type": "quantitative", "scale": {"domain": [0, 2], "nice": false}, "axis": {"values": [0, 0.5, 1, 1.5, 2], "tickCount": 5, "format": ".1f", "labelOverlap": false, "title": "PKA mRNA expression (fold)"}}
          }},
        {"data": {"name": "bars"}, "transform": [{"filter": "datum.panel == 'D'"}], "mark": {"type": "rule", "color": "black", "strokeWidth": 1.2},
          "encoding": {"x": {"field": "bar", "type": "nominal"}, "y": {"field": "mean", "type": "quantitative"}, "y2": {"field": "upper"}}},
        {"data": {"name": "bars"}, "transform": [{"filter": "datum.panel == 'D'"}], "mark": {"type": "tick", "orient": "horizontal", "size": 7, "thickness": 1.2, "color": "black", "opacity": 1},
          "encoding": {"x": {"field": "bar", "type": "nominal"}, "y": {"field": "upper", "type": "quantitative"}}},
        {"data": {"name": "points"}, "transform": [{"filter": "datum.panel == 'D'"}], "mark": {"type": "circle", "size": 14, "color": "black", "opacity": 1},
          "encoding": {"x": {"field": "bar", "type": "nominal"}, "y": {"field": "value", "type": "quantitative"}}},
        {"data": {"name": "sig"}, "transform": [{"filter": "datum.panel == 'D'"}], "mark": {"type": "rule", "color": "black", "strokeWidth": 1},
          "encoding": {"x": {"field": "from", "type": "nominal"}, "x2": {"field": "to"}, "y": {"field": "y", "type": "quantitative"}}},
        {"data": {"name": "sig"}, "transform": [{"filter": "datum.panel == 'D'"}, {"fold": ["from", "to"], "as": ["end", "cat"]}], "mark": {"type": "tick", "orient": "vertical", "size": 6, "thickness": 1, "color": "black", "opacity": 1},
          "encoding": {"x": {"field": "cat", "type": "nominal"}, "y": {"field": "y", "type": "quantitative"}}},
        {"data": {"name": "sig"}, "transform": [{"filter": "datum.panel == 'D'"}], "mark": {"type": "text", "color": "black", "fontSize": 10, "fontWeight": "bold", "baseline": "alphabetic", "dy": -1.5, "dx": {"expr": "(indexof(cats, datum.to) - indexof(cats, datum.from)) * 9.5"}},
          "encoding": {"x": {"field": "from", "type": "nominal"}, "y": {"field": "y", "type": "quantitative"}, "text": {"field": "label"}}},
        {"data": {"name": "groups"}, "mark": {"type": "rule", "color": "black", "strokeWidth": 1.5},
          "encoding": {"x": {"field": "from", "type": "nominal", "bandPosition": 0}, "x2": {"field": "to", "bandPosition": 1}, "y": {"datum": -0.714}}},
        {"data": {"name": "groups"}, "mark": {"type": "rule", "color": "black", "strokeWidth": 1.5},
          "encoding": {"x": {"field": "from", "type": "nominal", "bandPosition": 0}, "y": {"datum": -0.714}, "y2": {"datum": -0.62}}},
        {"data": {"name": "groups"}, "mark": {"type": "rule", "color": "black", "strokeWidth": 1.5},
          "encoding": {"x": {"field": "to", "type": "nominal", "bandPosition": 1}, "y": {"datum": -0.714}, "y2": {"datum": -0.62}}},
        {"data": {"name": "groups"}, "mark": {"type": "text", "color": "black", "fontSize": 12, "fontWeight": "bold", "baseline": "middle", "dx": {"expr": "(indexof(cats, datum.to) - indexof(cats, datum.from)) * 9.5"}},
          "encoding": {"x": {"field": "from", "type": "nominal"}, "y": {"datum": -0.857}, "text": {"field": "region"}}}
      ]
    },
    {
      "title": {"text": "E", "offset": 4},
      "width": {"step": 19},
      "height": 168,
      "layer": [
        {"data": {"name": "bars"}, "transform": [{"filter": "datum.panel == 'E'"}],
          "mark": {"type": "bar", "fill": "white", "stroke": "black", "strokeWidth": 1.3},
          "encoding": {
            "x": {"field": "bar", "type": "nominal", "title": null, "scale": {"domain": {"expr": "cats"}, "paddingInner": 0.32, "paddingOuter": 0.4}, "axis": {"labelExpr": "datum.value == 'gap' ? '' : split(datum.value, ' ')[1]", "tickColor": {"condition": {"test": "datum.value == 'gap'", "value": "transparent"}, "value": "black"}}},
            "y": {"field": "mean", "type": "quantitative", "scale": {"domain": [0, 2], "nice": false}, "axis": {"values": [0, 0.5, 1, 1.5, 2], "tickCount": 5, "format": ".1f", "labelOverlap": false, "title": "CREB mRNA expression (fold)"}}
          }},
        {"data": {"name": "bars"}, "transform": [{"filter": "datum.panel == 'E'"}], "mark": {"type": "rule", "color": "black", "strokeWidth": 1.2},
          "encoding": {"x": {"field": "bar", "type": "nominal"}, "y": {"field": "mean", "type": "quantitative"}, "y2": {"field": "upper"}}},
        {"data": {"name": "bars"}, "transform": [{"filter": "datum.panel == 'E'"}], "mark": {"type": "tick", "orient": "horizontal", "size": 7, "thickness": 1.2, "color": "black", "opacity": 1},
          "encoding": {"x": {"field": "bar", "type": "nominal"}, "y": {"field": "upper", "type": "quantitative"}}},
        {"data": {"name": "points"}, "transform": [{"filter": "datum.panel == 'E'"}], "mark": {"type": "circle", "size": 14, "color": "black", "opacity": 1},
          "encoding": {"x": {"field": "bar", "type": "nominal"}, "y": {"field": "value", "type": "quantitative"}}},
        {"data": {"name": "sig"}, "transform": [{"filter": "datum.panel == 'E'"}], "mark": {"type": "rule", "color": "black", "strokeWidth": 1},
          "encoding": {"x": {"field": "from", "type": "nominal"}, "x2": {"field": "to"}, "y": {"field": "y", "type": "quantitative"}}},
        {"data": {"name": "sig"}, "transform": [{"filter": "datum.panel == 'E'"}, {"fold": ["from", "to"], "as": ["end", "cat"]}], "mark": {"type": "tick", "orient": "vertical", "size": 6, "thickness": 1, "color": "black", "opacity": 1},
          "encoding": {"x": {"field": "cat", "type": "nominal"}, "y": {"field": "y", "type": "quantitative"}}},
        {"data": {"name": "sig"}, "transform": [{"filter": "datum.panel == 'E'"}], "mark": {"type": "text", "color": "black", "fontSize": 10, "fontWeight": "bold", "baseline": "alphabetic", "dy": -1.5, "dx": {"expr": "(indexof(cats, datum.to) - indexof(cats, datum.from)) * 9.5"}},
          "encoding": {"x": {"field": "from", "type": "nominal"}, "y": {"field": "y", "type": "quantitative"}, "text": {"field": "label"}}},
        {"data": {"name": "groups"}, "mark": {"type": "rule", "color": "black", "strokeWidth": 1.5},
          "encoding": {"x": {"field": "from", "type": "nominal", "bandPosition": 0}, "x2": {"field": "to", "bandPosition": 1}, "y": {"datum": -0.714}}},
        {"data": {"name": "groups"}, "mark": {"type": "rule", "color": "black", "strokeWidth": 1.5},
          "encoding": {"x": {"field": "from", "type": "nominal", "bandPosition": 0}, "y": {"datum": -0.714}, "y2": {"datum": -0.62}}},
        {"data": {"name": "groups"}, "mark": {"type": "rule", "color": "black", "strokeWidth": 1.5},
          "encoding": {"x": {"field": "to", "type": "nominal", "bandPosition": 1}, "y": {"datum": -0.714}, "y2": {"datum": -0.62}}},
        {"data": {"name": "groups"}, "mark": {"type": "text", "color": "black", "fontSize": 12, "fontWeight": "bold", "baseline": "middle", "dx": {"expr": "(indexof(cats, datum.to) - indexof(cats, datum.from)) * 9.5"}},
          "encoding": {"x": {"field": "from", "type": "nominal"}, "y": {"datum": -0.857}, "text": {"field": "region"}}}
      ]
    },
    {
      "title": {"text": "F", "offset": 4},
      "width": {"step": 19},
      "height": 168,
      "layer": [
        {"data": {"name": "bars"}, "transform": [{"filter": "datum.panel == 'F'"}],
          "mark": {"type": "bar", "fill": "white", "stroke": "black", "strokeWidth": 1.3},
          "encoding": {
            "x": {"field": "bar", "type": "nominal", "title": null, "scale": {"domain": {"expr": "cats"}, "paddingInner": 0.32, "paddingOuter": 0.4}, "axis": {"labelExpr": "datum.value == 'gap' ? '' : split(datum.value, ' ')[1]", "tickColor": {"condition": {"test": "datum.value == 'gap'", "value": "transparent"}, "value": "black"}}},
            "y": {"field": "mean", "type": "quantitative", "scale": {"domain": [0, 2.5], "nice": false}, "axis": {"values": [0, 0.5, 1, 1.5, 2, 2.5], "tickCount": 6, "format": ".1f", "labelOverlap": false, "title": "BDNF mRNA expression (fold)"}}
          }},
        {"data": {"name": "bars"}, "transform": [{"filter": "datum.panel == 'F'"}], "mark": {"type": "rule", "color": "black", "strokeWidth": 1.2},
          "encoding": {"x": {"field": "bar", "type": "nominal"}, "y": {"field": "mean", "type": "quantitative"}, "y2": {"field": "upper"}}},
        {"data": {"name": "bars"}, "transform": [{"filter": "datum.panel == 'F'"}], "mark": {"type": "tick", "orient": "horizontal", "size": 7, "thickness": 1.2, "color": "black", "opacity": 1},
          "encoding": {"x": {"field": "bar", "type": "nominal"}, "y": {"field": "upper", "type": "quantitative"}}},
        {"data": {"name": "points"}, "transform": [{"filter": "datum.panel == 'F'"}], "mark": {"type": "circle", "size": 14, "color": "black", "opacity": 1},
          "encoding": {"x": {"field": "bar", "type": "nominal"}, "y": {"field": "value", "type": "quantitative"}}},
        {"data": {"name": "sig"}, "transform": [{"filter": "datum.panel == 'F'"}], "mark": {"type": "rule", "color": "black", "strokeWidth": 1},
          "encoding": {"x": {"field": "from", "type": "nominal"}, "x2": {"field": "to"}, "y": {"field": "y", "type": "quantitative"}}},
        {"data": {"name": "sig"}, "transform": [{"filter": "datum.panel == 'F'"}, {"fold": ["from", "to"], "as": ["end", "cat"]}], "mark": {"type": "tick", "orient": "vertical", "size": 6, "thickness": 1, "color": "black", "opacity": 1},
          "encoding": {"x": {"field": "cat", "type": "nominal"}, "y": {"field": "y", "type": "quantitative"}}},
        {"data": {"name": "sig"}, "transform": [{"filter": "datum.panel == 'F'"}], "mark": {"type": "text", "color": "black", "fontSize": 10, "fontWeight": "bold", "baseline": "alphabetic", "dy": -1.5, "dx": {"expr": "(indexof(cats, datum.to) - indexof(cats, datum.from)) * 9.5"}},
          "encoding": {"x": {"field": "from", "type": "nominal"}, "y": {"field": "y", "type": "quantitative"}, "text": {"field": "label"}}},
        {"data": {"name": "groups"}, "mark": {"type": "rule", "color": "black", "strokeWidth": 1.5},
          "encoding": {"x": {"field": "from", "type": "nominal", "bandPosition": 0}, "x2": {"field": "to", "bandPosition": 1}, "y": {"datum": -0.893}}},
        {"data": {"name": "groups"}, "mark": {"type": "rule", "color": "black", "strokeWidth": 1.5},
          "encoding": {"x": {"field": "from", "type": "nominal", "bandPosition": 0}, "y": {"datum": -0.893}, "y2": {"datum": -0.774}}},
        {"data": {"name": "groups"}, "mark": {"type": "rule", "color": "black", "strokeWidth": 1.5},
          "encoding": {"x": {"field": "to", "type": "nominal", "bandPosition": 1}, "y": {"datum": -0.893}, "y2": {"datum": -0.774}}},
        {"data": {"name": "groups"}, "mark": {"type": "text", "color": "black", "fontSize": 12, "fontWeight": "bold", "baseline": "middle", "dx": {"expr": "(indexof(cats, datum.to) - indexof(cats, datum.from)) * 9.5"}},
          "encoding": {"x": {"field": "from", "type": "nominal"}, "y": {"datum": -1.07}, "text": {"field": "region"}}}
      ]
    }
  ],
  "config": {
    "font": "Liberation Sans",
    "view": {"stroke": null},
    "axis": {"grid": false, "domainColor": "black", "domainWidth": 1.5, "tickColor": "black", "tickWidth": 1.5, "tickSize": 5, "labelColor": "black", "titleColor": "black", "labelFontWeight": "bold", "titleFontWeight": "bold", "labelFont": "Liberation Sans", "titleFont": "Liberation Sans"},
    "axisX": {"labelAngle": -45, "labelFontSize": 11.5, "labelPadding": 3},
    "axisY": {"labelFontSize": 12.5, "titleFontSize": 11, "titlePadding": 6, "labelOverlap": false},
    "title": {"anchor": "start", "frame": "bounds", "fontSize": 22, "fontWeight": "bold", "font": "Liberation Sans", "color": "black", "dx": -14}
  }
}
